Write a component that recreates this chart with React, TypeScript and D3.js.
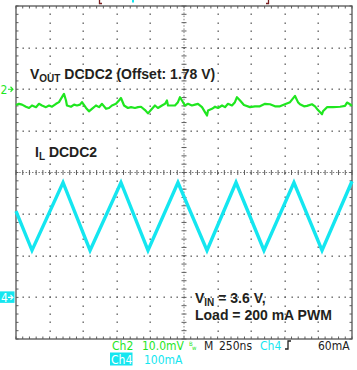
import React from "react";
import * as d3 from "d3";

// Time axis (ns) and divisions
const timeDomain = [0, 2500];
const divDomain = [-4, 4];
const ch2Scale = 10; // mV/div
const ch4Scale = 100; // mA/div
const ch2Pos = 2; // div
const ch4Pos = -3; // div

// Ch2: VOUT ripple (mV relative to offset 1.78 V)
const ch2Time = [0, 22, 45, 74, 97, 119, 149, 171, 193, 223, 246, 268, 298, 320, 342, 357, 372, 379, 409, 432, 454, 476, 491, 521, 543, 565, 595, 618, 640, 670, 692, 714, 744, 766, 781, 804, 833, 856, 885, 908, 930, 960, 982, 1012, 1034, 1056, 1086, 1109, 1123, 1131, 1161, 1183, 1205, 1220, 1235, 1257, 1280, 1309, 1332, 1354, 1384, 1406, 1421, 1429, 1458, 1481, 1503, 1533, 1555, 1577, 1607, 1629, 1644, 1667, 1696, 1741, 1778, 1815, 1853, 1890, 1927, 1964, 2001, 2039, 2076, 2098, 2113, 2143, 2165, 2202, 2225, 2247, 2277, 2284, 2314, 2359, 2411, 2448, 2463, 2485, 2500];
const ch2Values = [-3.8, -3.5, -3.7, -4.2, -4.5, -3.9, -4.3, -3.5, -3.9, -4.3, -3.9, -4.2, -3.5, -3.1, -1.9, -1.1, -2.7, -3.9, -4.2, -3.7, -3.9, -3.7, -3.1, -4.5, -5.3, -4.7, -3.9, -4.3, -3.5, -4.7, -4.5, -3.9, -3.5, -2.7, -2.1, -3.9, -4.5, -4.3, -4.5, -4.3, -4.2, -5.0, -5.8, -4.7, -3.9, -4.5, -3.9, -3.5, -2.7, -3.9, -3.9, -3.9, -3.1, -1.9, -2.7, -3.9, -3.5, -3.9, -3.7, -3.5, -4.3, -5.5, -6.3, -5.1, -4.7, -4.2, -4.5, -3.9, -4.3, -3.5, -3.9, -3.1, -1.9, -2.7, -3.8, -4.3, -4.1, -4.1, -3.5, -3.6, -4.1, -4.1, -3.6, -3.1, -1.6, -3.1, -3.6, -4.1, -4.0, -3.6, -4.1, -5.0, -6.0, -5.3, -4.3, -4.3, -4.2, -4.0, -3.2, -3.6, -4.0];

// Ch4: inductor current (mA)
const ch4Time = [0, 119, 350, 551, 781, 982, 1205, 1421, 1637, 1845, 2068, 2277, 2500];
const ch4Values = [207, 113, 276, 113, 276, 113, 276, 113, 276, 113, 276, 113, 279];

const GREEN = "#1fe61f";
const CYAN = "#14e6f0";
const GRID = "#5e5e5e";
const BORDER = "#555555";
const LABEL_FONT = "'Liberation Sans', Arial, sans-serif";
const SCOPE_FONT = "'DejaVu Sans Condensed', 'Liberation Sans Narrow', 'DejaVu Sans', sans-serif";

export default function App() {
  const L = 16, R = 352, T = 6, B = 339;
  const x = d3.scaleLinear().domain(timeDomain).range([L, R]);
  const y = d3.scaleLinear().domain(divDomain).range([B, T]);
  const majorX = d3.range(0, 11).map((i) => timeDomain[0] + (i * (timeDomain[1] - timeDomain[0])) / 10);
  const majorY = d3.range(-4, 5);
  const minorX = d3.range(0, 51).map((i) => (i * (timeDomain[1] - timeDomain[0])) / 50);
  const minorY = d3.range(0, 41).map((i) => -4 + i * 0.2);

  const line2 = d3
    .line<number>()
    .x((_, i) => x(ch2Time[i]))
    .y((v) => y(ch2Pos + v / ch2Scale));
  const line4 = d3
    .line<number>()
    .x((_, i) => x(ch4Time[i]))
    .y((v) => y(ch4Pos + v / ch4Scale));

  const yc = y(0);
  const xc = x(1250);

  return (
    <svg width={357} height={370} style={{ position: "absolute", left: 0, top: 0, background: "#fff" }}>
      <rect x={0} y={0} width={357} height={370} fill="#fff" />
      {/* top record bar remnants */}
      <path d="M99.5,0 V3.5 H102" stroke="#7a2020" strokeWidth={1.3} fill="none" />
      <path d="M268.5,0 V3.5 H266" stroke="#7a2020" strokeWidth={1.3} fill="none" />
      <rect x={132} y={0} width={2} height={2.5} fill={CYAN} />

      {/* grid dots on major lines */}
      {majorX.slice(1, -1).filter((t) => t !== 1250).map((t) =>
        minorY.slice(1, -1).map((d, j) => (
          <rect key={"vx" + t + "_" + j} x={Math.round(x(t)) - 0.5} y={Math.round(y(d)) - 0.5} width={1.4} height={1.4} fill={GRID} />
        ))
      )}
      {majorY.slice(1, -1).filter((d) => d !== 0).map((d) =>
        minorX.slice(1, -1).map((t, j) => (
          <rect key={"hy" + d + "_" + j} x={Math.round(x(t)) - 0.5} y={Math.round(y(d)) - 0.5} width={1.4} height={1.4} fill={GRID} />
        ))
      )}
      {/* center crosshair */}
      <line x1={L} x2={R} y1={yc} y2={yc} stroke={GRID} strokeWidth={0.8} strokeDasharray="1.5 1.7" />
      <line x1={xc} x2={xc} y1={T} y2={B} stroke={GRID} strokeWidth={0.8} strokeDasharray="1.5 1.7" />
      {minorX.map((t, i) => (
        <line key={"cx" + i} x1={x(t)} x2={x(t)} y1={yc - 2.5} y2={yc + 2.5} stroke={GRID} strokeWidth={1} />
      ))}
      {minorY.map((d, i) => (
        <line key={"cy" + i} x1={xc - 2.5} x2={xc + 2.5} y1={y(d)} y2={y(d)} stroke={GRID} strokeWidth={1} />
      ))}
      {/* border ticks */}
      {minorX.map((t, i) => (
        <g key={"bx" + i}>
          <line x1={x(t)} x2={x(t)} y1={T} y2={T + 2.5} stroke={GRID} strokeWidth={1} />
          <line x1={x(t)} x2={x(t)} y1={B - 2.5} y2={B} stroke={GRID} strokeWidth={1} />
        </g>
      ))}
      {minorY.map((d, i) => (
        <g key={"by" + i}>
          <line x1={L} x2={L + 2.5} y1={y(d)} y2={y(d)} stroke={GRID} strokeWidth={1} />
          <line x1={R - 2.5} x2={R} y1={y(d)} y2={y(d)} stroke={GRID} strokeWidth={1} />
        </g>
      ))}
      <rect x={L} y={T} width={R - L} height={B - T} fill="none" stroke={BORDER} strokeWidth={1.3} />

      {/* traces */}
      <path d={line4(ch4Values) || ""} fill="none" stroke={CYAN} strokeWidth={3.4} strokeLinejoin="miter" />
      <path d={line2(ch2Values) || ""} fill="none" stroke={GREEN} strokeWidth={2.2} strokeLinejoin="round" />

      {/* channel markers */}
      <text x={0.5} y={y(ch2Pos) + 4.5} fontFamily={SCOPE_FONT} fontSize={12} fill={GREEN}>2</text>
      <path d={`M8,${y(ch2Pos)} H13 M10.5,${y(ch2Pos) - 2.5} L13,${y(ch2Pos)} L10.5,${y(ch2Pos) + 2.5}`} stroke={GREEN} strokeWidth={1.1} fill="none" />
      <rect x={0} y={y(ch4Pos) - 6} width={14.5} height={11.5} fill={CYAN} />
      <text x={1} y={y(ch4Pos) + 4.5} fontFamily={SCOPE_FONT} fontSize={12} fill="#fff">4</text>
      <path d={`M8,${y(ch4Pos)} H13 M10.5,${y(ch4Pos) - 2.5} L13,${y(ch4Pos)} L10.5,${y(ch4Pos) + 2.5}`} stroke="#fff" strokeWidth={1.1} fill="none" />

      {/* annotations */}
      <text x={30} y={79} fontFamily={LABEL_FONT} fontWeight="bold" fontSize={14} fill="#231f20">
        V<tspan fontSize={10} dy={3}>OUT</tspan>
        <tspan dy={-3}> DCDC2 (Offset: 1.78 V)</tspan>
      </text>
      <text x={35} y={157} fontFamily={LABEL_FONT} fontWeight="bold" fontSize={14} fill="#231f20">
        I<tspan fontSize={10} dy={3}>L</tspan>
        <tspan dy={-3}> DCDC2</tspan>
      </text>
      <text x={195} y={303} fontFamily={LABEL_FONT} fontWeight="bold" fontSize={14} fill="#231f20">
        V<tspan fontSize={10} dy={3}>IN</tspan>
        <tspan dy={-3}> = 3.6 V,</tspan>
      </text>
      <text x={195} y={320} fontFamily={LABEL_FONT} fontWeight="bold" fontSize={14} fill="#231f20">
        Load = 200 mA PWM
      </text>

      {/* status line */}
      <g fontFamily={SCOPE_FONT} fontSize={12}>
        <text x={112} y={350} fill={GREEN}>Ch2</text>
        <text x={142} y={350} fill={GREEN}>10.0mV</text>
        <text x={189} y={346} fill={GREEN} fontSize={6}>B</text>
        <text x={192} y={350} fill={GREEN} fontSize={6}>w</text>
        <text x={204} y={350} fill="#222">M</text>
        <text x={219} y={350} fill="#222">250ns</text>
        <text x={260} y={350} fill={CYAN}>Ch4</text>
        <path d="M285,349 H288 V341 H291" stroke="#222" strokeWidth={1.3} fill="none" />
        <text x={318} y={350} fill="#222">60mA</text>
        <rect x={110} y={352.5} width={22.5} height={13} fill={CYAN} />
        <text x={111} y={363.5} fill="#fff">Ch4</text>
        <text x={144} y={363.5} fill={CYAN}>100mA</text>
      </g>
    </svg>
  );
}
